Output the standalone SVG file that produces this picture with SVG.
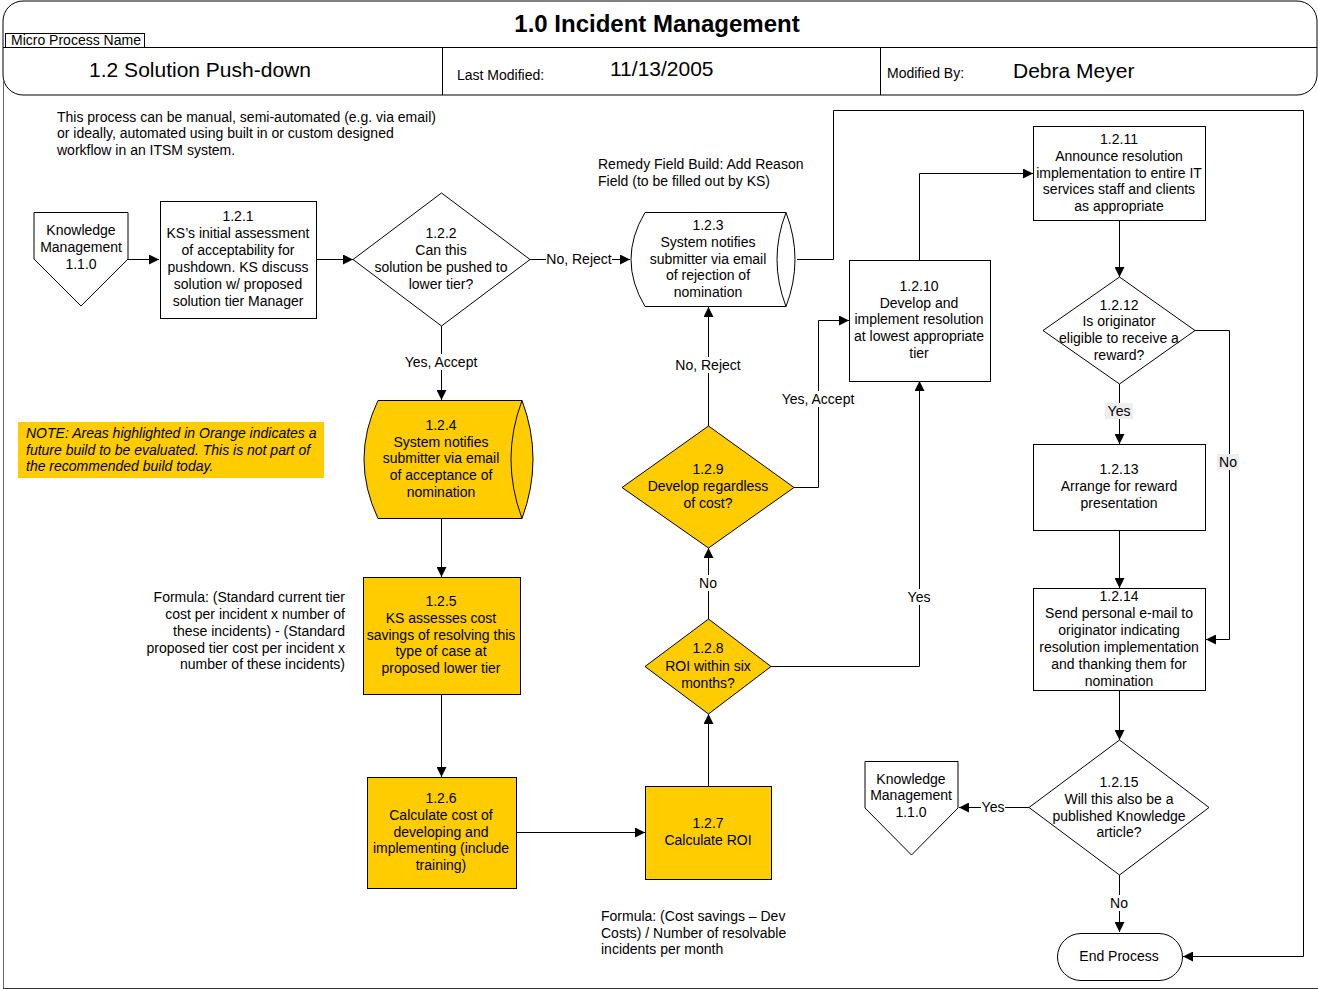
<svg xmlns="http://www.w3.org/2000/svg" width="1318" height="989" viewBox="0 0 1318 989">
<defs>
<marker id="arr" viewBox="0 0 10 10" refX="10" refY="5" markerWidth="10" markerHeight="10" markerUnits="userSpaceOnUse" orient="auto">
<path d="M0,0 L10,5 L0,10 Z" fill="#000"/>
</marker>
</defs>
<style>
text{font-family:"Liberation Sans",Arial,sans-serif;font-size:14px;fill:#000}
.c{text-anchor:middle}
.r{text-anchor:end}
.shape{fill:#fff;stroke:#000;stroke-width:1}
.y{fill:#FFCC00;stroke:#000;stroke-width:1}
.ln{fill:none;stroke:#000;stroke-width:1;marker-end:url(#arr)}
.pl{fill:none;stroke:#000;stroke-width:1}
.lb{fill:#fff}
.lg{fill:#eeeeee}
</style>
<rect width="1318" height="989" fill="#fff"/>
<g id="frame">
<rect x="3" y="1" width="1314" height="94" rx="20" ry="20" fill="#fff" stroke="#000" stroke-width="1"/>
<line x1="3" y1="47.5" x2="1317" y2="47.5" stroke="#000"/>
<line x1="442.5" y1="47.5" x2="442.5" y2="95" stroke="#000"/>
<line x1="880.5" y1="47.5" x2="880.5" y2="95" stroke="#000"/>
<rect x="5.5" y="33.5" width="139" height="14" fill="#fff" stroke="#000"/>
<line x1="3.5" y1="80" x2="3.5" y2="989" stroke="#666"/>
<line x1="3" y1="988.5" x2="1318" y2="988.5" stroke="#333"/>
<text x="657" y="32" class="c" style="font-size:24px;font-weight:bold">1.0 Incident Management</text>
<text x="11" y="45">Micro Process Name</text>
<text x="200" y="77" class="c" style="font-size:21px">1.2 Solution Push-down</text>
<text x="457" y="80">Last Modified:</text>
<text x="610" y="76" style="font-size:21px">11/13/2005</text>
<text x="887" y="78">Modified By:</text>
<text x="1013" y="78" style="font-size:21px">Debra Meyer</text>
</g>
<g id="notes">
<text x="57" y="122">This process can be manual, semi-automated (e.g. via email)</text>
<text x="57" y="138">or ideally, automated using built in or custom designed</text>
<text x="57" y="155">workflow in an ITSM system.</text>
<text x="598" y="169">Remedy Field Build: Add Reason</text>
<text x="598" y="186">Field (to be filled out by KS)</text>
<rect x="18" y="422" width="306" height="56" fill="#FFCC00"/>
<text x="26" y="438" style="font-style:italic">NOTE: Areas highlighted in Orange indicates a</text>
<text x="26" y="455" style="font-style:italic">future build to be evaluated. This is not part of</text>
<text x="26" y="471" style="font-style:italic">the recommended build today.</text>
<text x="345" y="602" class="r">Formula: (Standard current tier</text>
<text x="345" y="619" class="r">cost per incident x number of</text>
<text x="345" y="636" class="r">these incidents) - (Standard</text>
<text x="345" y="653" class="r">proposed tier cost per incident x</text>
<text x="345" y="669" class="r">number of these incidents)</text>
<text x="601" y="921">Formula: (Cost savings – Dev</text>
<text x="601" y="938">Costs) / Number of resolvable</text>
<text x="601" y="954">incidents per month</text>
</g>
<g id="connectors">
<line class="ln" x1="128" y1="259.5" x2="159" y2="259.5"/>
<line class="ln" x1="316" y1="259.5" x2="353" y2="259.5"/>
<line class="ln" x1="530" y1="259.5" x2="630" y2="259.5"/>
<rect class="lb" x="546" y="251" width="66" height="16"/>
<text x="579" y="264" class="c">No, Reject</text>
<polyline class="ln" points="797,259.5 833.5,259.5 833.5,110.5 1303.5,110.5 1303.5,956.5 1183,956.5"/>
<line class="ln" x1="441.5" y1="326" x2="441.5" y2="400"/>
<rect class="lb" x="400" y="354" width="83" height="16"/>
<text x="441" y="367" class="c">Yes, Accept</text>
<line class="ln" x1="441.5" y1="518" x2="441.5" y2="577"/>
<line class="ln" x1="441.5" y1="694" x2="441.5" y2="777"/>
<line class="ln" x1="516" y1="832.5" x2="645" y2="832.5"/>
<line class="ln" x1="708.5" y1="786" x2="708.5" y2="714"/>
<line class="ln" x1="708.5" y1="619" x2="708.5" y2="548"/>
<rect class="lb" x="696" y="575" width="24" height="16"/>
<text x="708" y="588" class="c">No</text>
<polyline class="ln" points="771,666.5 919.5,666.5 919.5,381"/>
<rect class="lb" x="904" y="589" width="31" height="16"/>
<text x="919" y="602" class="c">Yes</text>
<line class="ln" x1="708.5" y1="426" x2="708.5" y2="307"/>
<rect class="lb" x="670" y="357" width="77" height="16"/>
<text x="708" y="370" class="c">No, Reject</text>
<polyline class="ln" points="794,487.5 818.5,487.5 818.5,320.5 849,320.5"/>
<rect class="lb" x="777" y="391" width="83" height="16"/>
<text x="818" y="404" class="c">Yes, Accept</text>
<polyline class="ln" points="919.5,260 919.5,173.5 1033,173.5"/>
<line class="ln" x1="1119.5" y1="220" x2="1119.5" y2="277"/>
<line class="ln" x1="1119.5" y1="384" x2="1119.5" y2="444"/>
<rect class="lg" x="1105" y="403" width="28" height="16"/>
<text x="1119" y="416" class="c">Yes</text>
<polyline class="ln" points="1195,330.5 1229.5,330.5 1229.5,639.5 1206,639.5"/>
<rect class="lg" x="1217" y="454" width="22" height="16"/>
<text x="1228" y="467" class="c">No</text>
<line class="ln" x1="1119.5" y1="530" x2="1119.5" y2="588"/>
<line class="ln" x1="1119.5" y1="690" x2="1119.5" y2="740"/>
<line class="ln" x1="1029" y1="807.5" x2="959" y2="807.5"/>
<rect class="lb" x="981" y="799" width="24" height="16"/>
<text x="993" y="812" class="c">Yes</text>
<line class="ln" x1="1119.5" y1="875" x2="1119.5" y2="932"/>
<rect class="lb" x="1107" y="895" width="24" height="16"/>
<text x="1119" y="908" class="c">No</text>
</g>
<g id="km1">
<polygon class="shape" points="34,212.5 128,212.5 128,259 81,306 34,259"/>
<text x="81" y="235" class="c">Knowledge</text>
<text x="81" y="252" class="c">Management</text>
<text x="81" y="269" class="c">1.1.0</text>
</g>
<g id="n121">
<rect class="shape" x="160.5" y="201.5" width="156" height="117"/>
<text x="238" y="221" class="c">1.2.1</text>
<text x="238" y="238" class="c">KS’s initial assessment</text>
<text x="238" y="255" class="c">of acceptability for</text>
<text x="238" y="272" class="c">pushdown. KS discuss</text>
<text x="238" y="289" class="c">solution w/ proposed</text>
<text x="238" y="306" class="c">solution tier Manager</text>
</g>
<g id="n122">
<polygon class="shape" points="353,259.5 441.5,193 530,259.5 441.5,326"/>
<text x="441" y="238" class="c">1.2.2</text>
<text x="441" y="255" class="c">Can this</text>
<text x="441" y="272" class="c">solution be pushed to</text>
<text x="441" y="289" class="c">lower tier?</text>
</g>
<g id="n123">
<path class="shape" d="M645,212.5 L786,212.5 Q804,259.5 786,306.5 L645,306.5 Q617,259.5 645,212.5 Z"/>
<path class="pl" d="M786,212.5 Q768,259.5 786,306.5"/>
<text x="708" y="230" class="c">1.2.3</text>
<text x="708" y="247" class="c">System notifies</text>
<text x="708" y="264" class="c">submitter via email</text>
<text x="708" y="280" class="c">of rejection of</text>
<text x="708" y="297" class="c">nomination</text>
</g>
<g id="n124">
<path class="y" d="M378,400.5 L522,400.5 Q544,459 522,518.5 L378,518.5 Q350,459 378,400.5 Z"/>
<path class="pl" d="M522,400.5 Q500,459 522,518.5"/>
<text x="441" y="430" class="c">1.2.4</text>
<text x="441" y="447" class="c">System notifies</text>
<text x="441" y="463" class="c">submitter via email</text>
<text x="441" y="480" class="c">of acceptance of</text>
<text x="441" y="497" class="c">nomination</text>
</g>
<g id="n125">
<rect class="y" x="363.5" y="577.5" width="157" height="117"/>
<text x="441" y="606" class="c">1.2.5</text>
<text x="441" y="623" class="c">KS assesses cost</text>
<text x="441" y="640" class="c">savings of resolving this</text>
<text x="441" y="656" class="c">type of case at</text>
<text x="441" y="673" class="c">proposed lower tier</text>
</g>
<g id="n126">
<rect class="y" x="367.5" y="777.5" width="149" height="111"/>
<text x="441" y="803" class="c">1.2.6</text>
<text x="441" y="820" class="c">Calculate cost of</text>
<text x="441" y="837" class="c">developing and</text>
<text x="441" y="853" class="c">implementing (include</text>
<text x="441" y="870" class="c">training)</text>
</g>
<g id="n127">
<rect class="y" x="645.5" y="786.5" width="126" height="93"/>
<text x="708" y="828" class="c">1.2.7</text>
<text x="708" y="845" class="c">Calculate ROI</text>
</g>
<g id="n128">
<polygon class="y" points="645,666.5 708.5,619 771,666.5 708.5,714"/>
<text x="708" y="653" class="c">1.2.8</text>
<text x="708" y="671" class="c">ROI within six</text>
<text x="708" y="688" class="c">months?</text>
</g>
<g id="n129">
<polygon class="y" points="622,487.5 708.5,426 794,487.5 708.5,548"/>
<text x="708" y="474" class="c">1.2.9</text>
<text x="708" y="491" class="c">Develop regardless</text>
<text x="708" y="508" class="c">of cost?</text>
</g>
<g id="n1210">
<rect class="shape" x="849.5" y="260.5" width="141" height="121"/>
<text x="919" y="291" class="c">1.2.10</text>
<text x="919" y="308" class="c">Develop and</text>
<text x="919" y="324" class="c">implement resolution</text>
<text x="919" y="341" class="c">at lowest appropriate</text>
<text x="919" y="358" class="c">tier</text>
</g>
<g id="n1211">
<rect class="shape" x="1033.5" y="126.5" width="172" height="94"/>
<text x="1119" y="144" class="c">1.2.11</text>
<text x="1119" y="161" class="c">Announce resolution</text>
<text x="1119" y="178" class="c">implementation to entire IT</text>
<text x="1119" y="194" class="c">services staff and clients</text>
<text x="1119" y="211" class="c">as appropriate</text>
</g>
<g id="n1212">
<polygon class="shape" points="1043,330.5 1119.5,277 1195,330.5 1119.5,384"/>
<text x="1119" y="310" class="c">1.2.12</text>
<text x="1119" y="326" class="c">Is originator</text>
<text x="1119" y="343" class="c">eligible to receive a</text>
<text x="1119" y="360" class="c">reward?</text>
</g>
<g id="n1213">
<rect class="shape" x="1033.5" y="444.5" width="172" height="86"/>
<text x="1119" y="474" class="c">1.2.13</text>
<text x="1119" y="491" class="c">Arrange for reward</text>
<text x="1119" y="508" class="c">presentation</text>
</g>
<g id="n1214">
<rect class="shape" x="1033.5" y="588.5" width="172" height="102"/>
<text x="1119" y="601" class="c">1.2.14</text>
<text x="1119" y="618" class="c">Send personal e-mail to</text>
<text x="1119" y="635" class="c">originator indicating</text>
<text x="1119" y="652" class="c">resolution implementation</text>
<text x="1119" y="669" class="c">and thanking them for</text>
<text x="1119" y="686" class="c">nomination</text>
</g>
<g id="n1215">
<polygon class="shape" points="1029,807.5 1119.5,740 1209,807.5 1119.5,875"/>
<text x="1119" y="787" class="c">1.2.15</text>
<text x="1119" y="804" class="c">Will this also be a</text>
<text x="1119" y="821" class="c">published Knowledge</text>
<text x="1119" y="837" class="c">article?</text>
</g>
<g id="km2">
<polygon class="shape" points="865,761.5 958,761.5 958,808 911.5,855 865,808"/>
<text x="911" y="784" class="c">Knowledge</text>
<text x="911" y="800" class="c">Management</text>
<text x="911" y="817" class="c">1.1.0</text>
</g>
<g id="end">
<rect class="shape" x="1057.5" y="933.5" width="125" height="47" rx="23.5" ry="23.5"/>
<text x="1119" y="961" class="c">End Process</text>
</g>
</svg>
